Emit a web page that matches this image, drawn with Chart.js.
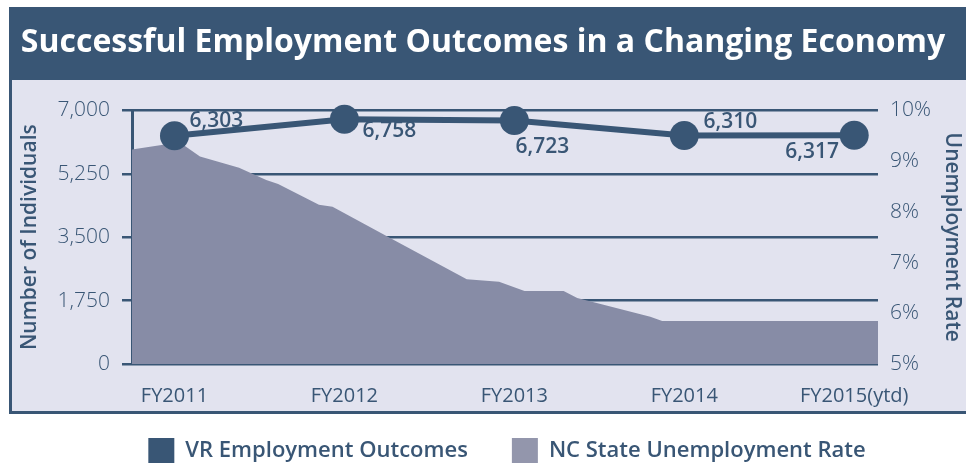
<!DOCTYPE html>
<html>
<head>
<meta charset="utf-8">
<script src="https://cdn.jsdelivr.net/npm/chart.js@4.4.1/dist/chart.umd.min.js"></script>
<style>
  html, body { margin: 0; padding: 0; background: #ffffff; }
  body { width: 966px; height: 463px; position: relative; overflow: hidden; }
  #frame { position: absolute; left: 9px; top: 7px; width: 962px; height: 407px; background: #395675; }
  #plotBg { position: absolute; left: 3px; right: 3px; top: 73px; bottom: 3px; background: #e2e3ef; }
  #wrap { position: absolute; left: 0; top: 0; width: 966px; height: 463px; }
</style>
</head>
<body>
<div id="frame"><div id="plotBg"></div></div>
<div id="wrap"><canvas id="chart"></canvas></div>
<script>
// Data
const yearLabels = ['FY2011', 'FY2012', 'FY2013', 'FY2014', 'FY2015(ytd)'];
const vrOutcomes = [6303, 6758, 6723, 6310, 6317];

// unemployment rate (%), x given in fiscal-year units (0 = FY2011)
const rateX = [-0.25, 0.03, 0.15, 0.38, 0.54, 0.61, 0.85, 0.93, 1.31, 1.72, 1.91, 2.06, 2.29, 2.37, 2.80, 2.87, 4.14];
const rateY = [9.23, 9.37, 9.09, 8.87, 8.63, 8.55, 8.14, 8.10, 7.41, 6.67, 6.62, 6.44, 6.44, 6.30, 5.93, 5.85, 5.85];

const legendNames = ['VR Employment Outcomes', 'NC State Unemployment Rate'];

const navy = '#395675';
const areaColor = '#878ca6';
const legendColors = [navy, '#9396ac'];
const FONT = '"Open Sans", "DejaVu Sans", sans-serif';

// where each value label sits relative to its dot
const labelOffsets = [[42, -15], [45, 12], [28, 27], [46, -13], [-42, 17]];

const pointLabels = {
    id: 'pointLabels',
    afterDatasetsDraw(chart) {
        const meta = chart.getDatasetMeta(0);
        const ctx = chart.ctx;
        ctx.save();
        ctx.font = `600 21px ${FONT}`;
        ctx.fillStyle = navy;
        ctx.textAlign = 'center';
        ctx.textBaseline = 'middle';
        meta.data.forEach((pt, i) => {
            const [dx, dy] = labelOffsets[i];
            ctx.fillText(vrOutcomes[i].toLocaleString('en-US'), pt.x + dx, pt.y + dy);
        });
        ctx.restore();
    }
};

// legend sits a little right of centre and tucked under the panel in the reference
const legendNudge = {
    id: 'legendNudge',
    afterLayout(chart) {
        const lg = chart.legend;
        lg.left += 24;
        lg.right += 24;
        lg.top -= 16;
    }
};

new Chart(document.getElementById('chart').getContext('2d'), {
    type: 'line',
    data: {
        datasets: [
            {
                label: legendNames[0],
                data: vrOutcomes.map((v, i) => ({ x: i, y: v })),
                yAxisID: 'y',
                borderColor: navy,
                backgroundColor: navy,
                borderWidth: 6,
                pointRadius: 14.5,
                pointBackgroundColor: navy,
                pointBorderWidth: 0,
                tension: 0,
                clip: false
            },
            {
                label: legendNames[1],
                data: rateX.map((x, i) => ({ x, y: rateY[i] })),
                yAxisID: 'y1',
                borderWidth: 0,
                backgroundColor: areaColor,
                pointRadius: 0,
                fill: 'start',
                tension: 0
            }
        ]
    },
    options: {
        responsive: true,
        maintainAspectRatio: false,
        animation: false,
        layout: { padding: 0 },
        plugins: {
            title: {
                display: true,
                text: 'Successful Employment Outcomes in a Changing Economy',
                color: '#ffffff',
                font: { family: FONT, size: 32, weight: 'bold', lineHeight: 1.2 },
                padding: { top: 24, bottom: 48 }
            },
            legend: {
                position: 'bottom',
                maxHeight: 53,
                labels: {
                    color: navy,
                    font: { family: FONT, size: 22, weight: '600' },
                    boxWidth: 26,
                    boxHeight: 26,
                    padding: 44,
                    generateLabels: chart =>
                        Chart.defaults.plugins.legend.labels.generateLabels(chart).map((item, i) => ({
                            ...item, fillStyle: legendColors[i], strokeStyle: legendColors[i], lineWidth: 0
                        }))
                }
            },
            tooltip: { enabled: false }
        },
        scales: {
            x: {
                type: 'linear',
                min: -0.25,
                max: 4.14,
                afterBuildTicks: s => { s.ticks = yearLabels.map((_, i) => ({ value: i })); },
                afterFit: s => { s.height = 46; },
                grid: { display: false, drawTicks: false },
                border: { display: false },
                ticks: {
                    autoSkip: false,
                    maxRotation: 0,
                    padding: 20,
                    color: navy,
                    font: { family: FONT, size: 20 },
                    callback: v => yearLabels[v] ?? ''
                }
            },
            y: {
                position: 'left',
                min: 0,
                max: 7000,
                afterFit: s => { s.width = 132; },
                grid: { color: navy, lineWidth: 2.5, tickLength: 10 },
                border: { display: true, color: navy, width: 3 },
                ticks: {
                    stepSize: 1750,
                    padding: 12,
                    color: navy,
                    font: { family: FONT, size: 21, weight: '300' }
                },
                title: {
                    display: true,
                    text: 'Number of Individuals',
                    color: navy,
                    font: { family: FONT, size: 21, weight: '600', lineHeight: 1.2 },
                    padding: { top: 17, bottom: 0 }
                }
            },
            y1: {
                position: 'right',
                min: 5,
                max: 10,
                afterFit: s => { s.width = 88; },
                grid: { display: false, drawTicks: false },
                border: { display: false },
                ticks: {
                    stepSize: 1,
                    padding: 12,
                    color: navy,
                    font: { family: FONT, size: 21, weight: '300' },
                    callback: v => v + '%'
                },
                title: {
                    display: true,
                    text: 'Unemployment Rate',
                    color: navy,
                    font: { family: FONT, size: 21, weight: '600', lineHeight: 1.2 },
                    padding: { top: 1, bottom: 0 }
                }
            }
        }
    },
    plugins: [pointLabels, legendNudge]
});
</script>
</body>
</html>
